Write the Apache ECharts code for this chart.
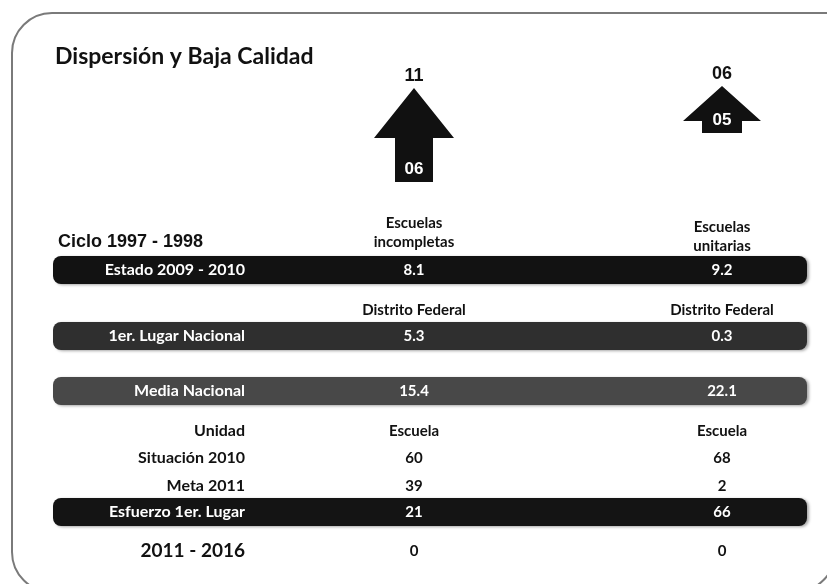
<!DOCTYPE html>
<html>
<head>
<meta charset="utf-8">
<script src="https://cdn.jsdelivr.net/npm/echarts@6/dist/echarts.min.js"></script>
<style>
  html, body { margin: 0; padding: 0; background: #fff; }
  #chart { width: 827px; height: 584px; }
</style>
</head>
<body>
<div id="chart"></div>
<script>
// Data
const columns = ['Escuelas\nincompletas', 'Escuelas\nunitarias']
const arrowFrom = [6, 5]
const arrowTo = [11, 6]
const estado = [8.1, 9.2]
const primerLugarEstado = ['Distrito Federal', 'Distrito Federal']
const primerLugar = [5.3, 0.3]
const mediaNacional = [15.4, 22.1]
const unidad = ['Escuela', 'Escuela']
const situacion2010 = [60, 68]
const meta2011 = [39, 2]
const esfuerzo = [21, 66]
const periodo2016 = [0, 0]

const FONT = 'Lato, "Open Sans", sans-serif'
const ARROW_FONT = '"Liberation Sans", Arial, sans-serif'
const NARROW_FONT = '"Liberation Sans Narrow", "Liberation Sans", Arial, sans-serif'

// Layout (pixel rows on the hidden y axis)
const rows = [
  { label: 'Ciclo 1997 - 1998', values: columns, y: 233, header: true },
  { label: 'Estado 2009 - 2010', values: estado, y: 270, bar: '#121212', fixed: 1 },
  { label: '', values: primerLugarEstado, y: 310 },
  { label: '1er. Lugar Nacional', values: primerLugar, y: 336, bar: '#2f2f2f', fixed: 1 },
  { label: 'Media Nacional', values: mediaNacional, y: 391, bar: '#484848', fixed: 1 },
  { label: 'Unidad', values: unidad, y: 431 },
  { label: 'Situación 2010', values: situacion2010, y: 458 },
  { label: 'Meta 2011', values: meta2011, y: 486 },
  { label: 'Esfuerzo 1er. Lugar', values: esfuerzo, y: 512, bar: '#141414' },
  { label: '2011 - 2016', values: periodo2016, y: 551, big: true }
]

const arrowShapes = [
  { tip: 88, headBase: 138, bottom: 182, headHalf: 40, shaftHalf: 19 },
  { tip: 86, headBase: 121, bottom: 133, headHalf: 39, shaftHalf: 20 }
]

const pad2 = (v) => String(v).padStart(2, '0')

function renderRow(params, api) {
  const row = rows[params.dataIndex]
  const p0 = api.coord([0, row.y])
  const p1 = api.coord([1, row.y])
  const y = p0[1]
  const children = []
  const textColor = row.bar ? '#fff' : '#111'

  if (row.bar) {
    children.push({
      type: 'rect',
      shape: { x: 53, y: y - 14, width: 754, height: 28, r: 8 },
      style: {
        fill: row.bar,
        shadowBlur: 3,
        shadowOffsetX: 2,
        shadowOffsetY: 1,
        shadowColor: 'rgba(0,0,0,0.35)'
      }
    })
  }

  if (row.header) {
    children.push({
      type: 'text',
      style: {
        x: 58, y: y + 9, text: row.label,
        fill: '#111', font: 'bold 18px ' + NARROW_FONT,
        align: 'left', verticalAlign: 'middle'
      }
    })
  } else if (row.label) {
    children.push({
      type: 'text',
      style: {
        x: 245, y: y, text: row.label,
        fill: textColor,
        font: (row.big ? 'bold 19px ' : 'bold 16px ') + FONT,
        align: 'right', verticalAlign: 'middle'
      }
    })
  }

  ;[p0, p1].forEach((p, i) => {
    let v = row.values[i]
    if (row.fixed) v = v.toFixed(row.fixed)
    children.push({
      type: 'text',
      style: {
        x: p[0], y: row.header ? y + i * 4 : y, text: String(v),
        fill: textColor,
        font: 'bold 15px ' + FONT,
        lineHeight: 19,
        align: 'center', verticalAlign: 'middle'
      }
    })
  })

  return { type: 'group', children }
}

function renderArrow(params, api) {
  const i = params.dataIndex
  const s = arrowShapes[i]
  const cx = api.coord([i, 0])[0]
  const tip = api.coord([i, s.tip])[1]
  const base = api.coord([i, s.headBase])[1]
  const bottom = api.coord([i, s.bottom])[1]
  return {
    type: 'group',
    children: [
      {
        type: 'polygon',
        shape: {
          points: [
            [cx, tip], [cx + s.headHalf, base], [cx + s.shaftHalf, base],
            [cx + s.shaftHalf, bottom], [cx - s.shaftHalf, bottom],
            [cx - s.shaftHalf, base], [cx - s.headHalf, base]
          ]
        },
        style: { fill: '#111' }
      },
      {
        type: 'text',
        style: {
          x: cx, y: tip - 12, text: pad2(arrowTo[i]),
          fill: '#111', font: 'bold 18px ' + ARROW_FONT,
          align: 'center', verticalAlign: 'middle'
        }
      },
      {
        type: 'text',
        style: {
          x: cx, y: bottom - 13, text: pad2(arrowFrom[i]),
          fill: '#fff', font: 'bold 17px ' + ARROW_FONT,
          align: 'center', verticalAlign: 'middle'
        }
      }
    ]
  }
}

const chart = echarts.init(document.getElementById('chart'))

chart.setOption({
  animation: false,
  graphic: [
    {
      type: 'rect',
      shape: { x: 12, y: 13, width: 823, height: 579, r: [40, 0, 40, 40] },
      style: { fill: 'none', stroke: '#7a7a7a', lineWidth: 2 },
      silent: true
    },
    {
      type: 'text',
      left: 55,
      top: 45,
      style: {
        text: 'Dispersión y Baja Calidad',
        fill: '#111',
        font: 'bold 23px ' + FONT
      }
    }
  ],
  grid: { left: 414, right: 105, top: 0, bottom: 0 },
  xAxis: { type: 'category', data: columns, boundaryGap: false, show: false },
  yAxis: { type: 'value', min: 0, max: 584, inverse: true, show: false },
  series: [
    {
      type: 'custom',
      name: 'Tabla',
      clip: false,
      renderItem: renderRow,
      data: rows.map((r, i) => [i, r.y])
    },
    {
      type: 'custom',
      name: 'Flechas',
      clip: false,
      renderItem: renderArrow,
      data: columns.map((c, i) => [i, arrowShapes[i].tip])
    }
  ]
})

window.addEventListener('resize', () => chart.resize())
</script>
</body>
</html>
